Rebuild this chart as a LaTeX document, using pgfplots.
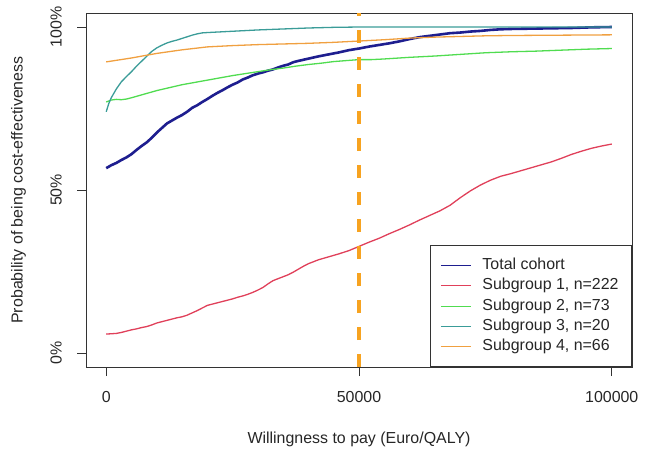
\documentclass[border=0pt]{standalone}
\usepackage{pgfplots}
\pgfplotsset{compat=1.18}
\usepackage{fontspec}
\setmainfont{Liberation Sans}
\definecolor{cBlue}{HTML}{1E1E8F}
\definecolor{cRed}{HTML}{E0405A}
\definecolor{cGreen}{HTML}{50DC50}
\definecolor{cTeal}{HTML}{3A9C98}
\definecolor{cOrange}{HTML}{F0A040}
\definecolor{cDash}{HTML}{F7A320}
\definecolor{cFrame}{HTML}{333333}
\begin{document}
\begin{tikzpicture}
\begin{axis}[
  scale only axis,
  width=546bp, height=354bp,
  xmin=-4000, xmax=104000,
  ymin=-4.3, ymax=104.3,
  axis line style={cFrame, line width=0.9bp},
  tick style={cFrame, line width=0.9bp},
  tick align=outside,
  major tick length=9bp,
  xtick pos=bottom, ytick pos=left,
  scaled x ticks=false,
  xtick={0,50000,100000},
  xticklabels={0,50000,100000},
  ytick={0,50,100},
  yticklabels={0\%,50\%,100\%},
  yticklabel style={rotate=90, anchor=south, inner sep=0pt, yshift=15bp},
  xticklabel style={inner sep=0pt, yshift=-15bp},
  font=\fontsize{16}{19}\selectfont,
  tick label style={text=black!85},
  label style={text=black!85},
  xlabel={Willingness to pay (Euro/QALY)},
  ylabel={Probability of being cost-effectiveness},
  xlabel style={yshift=-26bp},
  ylabel style={yshift=21bp},
  /pgf/number format/assume math mode=true,
  legend cell align=left,
  legend style={at={(1,0)}, anchor=south east, draw=cFrame, line width=0.9bp,
    fill=white, inner xsep=10bp, inner ysep=12bp, row sep=4.25bp, column sep=8bp,
    font=\fontsize{16}{19}\selectfont, text=black!85,
    nodes={inner xsep=3bp, inner ysep=0bp, text height=12bp, text depth=4bp, font=\fontsize{16}{19}\selectfont}},
  legend image code/.code={\draw[#1, line width=1bp] (5bp,0bp) -- (35bp,0bp);},
]
\addplot[cBlue, line width=2.6bp] coordinates {
(0,56.7)(1000,57.6)(2000,58.3)(3000,59.2)(4000,60.0)(5000,61.0)(6000,62.3)(7000,63.5)(8000,64.6)(9000,66.0)
(10000,67.6)(11000,69.0)(12000,70.4)(13000,71.3)(14000,72.2)(15000,73.0)(16000,74.0)(17000,75.2)(18000,76.0)(19000,77.0)
(20000,77.9)(21000,78.9)(22000,79.8)(23000,80.6)(24000,81.5)(25000,82.3)(26000,83.0)(27000,83.9)(28000,84.5)(29000,85.2)
(30000,85.7)(31000,86.1)(32000,86.6)(33000,87.0)(34000,87.6)(35000,88.1)(36000,88.5)(37000,89.2)(38000,89.6)(40000,90.3)
(42000,91.0)(44000,91.6)(46000,92.2)(48000,92.9)(50000,93.4)(52000,94.0)(54000,94.5)(56000,95.0)(58000,95.6)(60000,96.3)
(62000,96.9)(64000,97.3)(66000,97.7)(68000,98.1)(70000,98.3)(72000,98.6)(74000,98.8)(76000,99.1)(78000,99.3)(80000,99.4)
(84000,99.5)(88000,99.6)(92000,99.7)(96000,99.9)(100000,100.0)};
\addlegendentry{Total cohort}
\addplot[cRed, line width=1.3bp] coordinates {
(0,5.8)(1000,5.9)(2000,6.0)(3000,6.3)(4000,6.7)(5000,7.1)(6000,7.4)(7000,7.8)(8000,8.1)(9000,8.6)
(10000,9.2)(11000,9.6)(12000,10.0)(13000,10.4)(14000,10.8)(15000,11.1)(16000,11.6)(17000,12.3)(18000,13.0)(19000,13.8)
(20000,14.6)(21000,15.0)(22000,15.4)(23000,15.8)(24000,16.2)(25000,16.6)(26000,17.1)(27000,17.5)(28000,18.0)(29000,18.6)
(30000,19.3)(31000,20.1)(32000,21.2)(33000,22.2)(34000,22.8)(35000,23.4)(36000,24.0)(37000,24.8)(38000,25.7)(39000,26.6)
(40000,27.4)(41000,28.0)(42000,28.6)(44000,29.5)(46000,30.4)(48000,31.4)(50000,32.7)(52000,34.0)(54000,35.2)(56000,36.6)
(58000,37.9)(60000,39.3)(62000,40.8)(64000,42.2)(66000,43.6)(68000,45.3)(70000,47.6)(72000,49.7)(74000,51.5)(76000,53.0)
(78000,54.2)(80000,55.0)(82000,55.9)(84000,56.8)(86000,57.7)(88000,58.6)(90000,59.7)(92000,60.9)(94000,61.9)(96000,62.8)
(98000,63.5)(100000,64.1)};
\addlegendentry{Subgroup 1, n=222}
\addplot[cGreen, line width=1.3bp] coordinates {
(0,77.0)(1000,77.6)(2000,77.8)(3000,77.7)(4000,77.9)(5000,78.3)(7500,79.4)(10000,80.5)(12500,81.4)(15000,82.3)
(17500,83.0)(20000,83.7)(22500,84.4)(25000,85.1)(27500,85.7)(30000,86.3)(32500,86.9)(35000,87.4)(37500,88.0)(40000,88.5)
(42500,88.9)(45000,89.4)(47500,89.7)(50000,90.0)(52500,90.0)(55000,90.2)(60000,90.7)(65000,91.1)(70000,91.6)(75000,92.1)
(80000,92.4)(85000,92.6)(90000,92.9)(95000,93.2)(100000,93.4)};
\addlegendentry{Subgroup 2, n=73}
\addplot[cTeal, line width=1.3bp] coordinates {
(0,74.0)(500,76.5)(1000,78.3)(2000,81.0)(3000,83.2)(4000,84.8)(5000,86.3)(6000,88.0)(7000,89.5)(8000,91.0)
(9000,92.5)(10000,93.6)(11000,94.4)(12000,95.1)(13000,95.6)(14000,96.0)(15000,96.5)(16000,97.0)(17000,97.5)(18000,97.9)
(19000,98.2)(20000,98.3)(25000,98.7)(30000,99.1)(35000,99.4)(40000,99.7)(45000,99.9)(50000,100.0)(60000,100.0)(70000,100.0)
(80000,100.0)(90000,100.0)(100000,100.0)};
\addlegendentry{Subgroup 3, n=20}
\addplot[cOrange, line width=1.3bp] coordinates {
(0,89.3)(5000,90.5)(10000,91.9)(15000,93.0)(20000,93.9)(25000,94.3)(30000,94.6)(35000,94.8)(40000,95.0)(45000,95.3)
(50000,95.7)(55000,96.1)(60000,96.6)(65000,96.9)(70000,97.1)(75000,97.3)(80000,97.4)(90000,97.5)(100000,97.6)};
\addlegendentry{Subgroup 4, n=66}
\addplot[cDash, line width=3.5bp, dash pattern=on 13bp off 14bp, forget plot] coordinates {(50000,-4.3)(50000,104.3)};
\end{axis}
\path ([xshift=-86bp,yshift=-90bp]current axis.south west) rectangle ([xshift=24bp,yshift=13bp]current axis.north east);
\end{tikzpicture}
\end{document}
